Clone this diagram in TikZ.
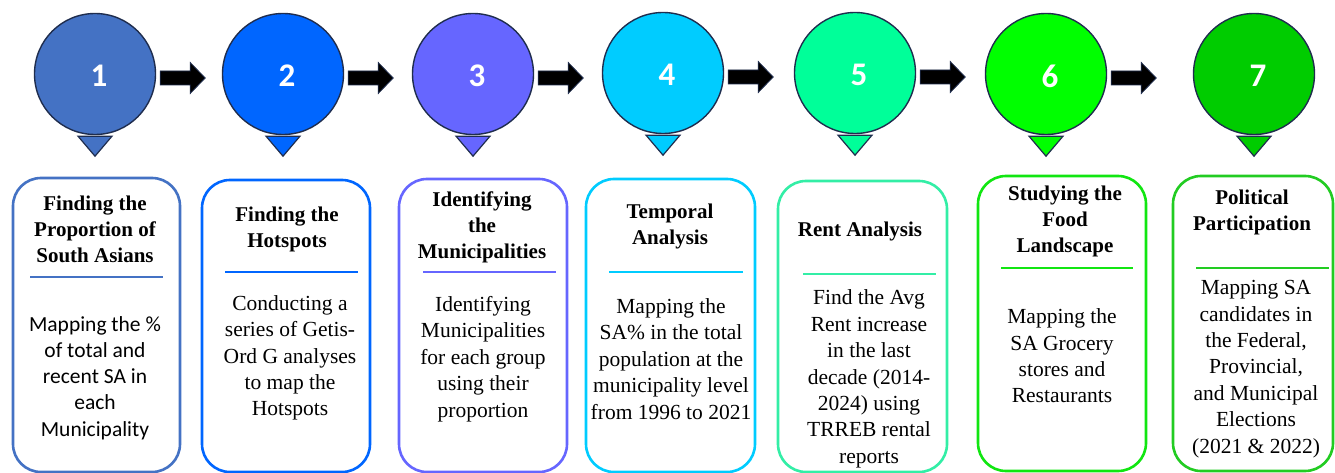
\documentclass[tikz,border=0pt]{standalone}
\usepackage{fontspec}
\setmainfont{Liberation Serif}[BoldFont={Liberation Serif Bold}]
\newfontfamily\calfont{Carlito}[BoldFont={Carlito Bold}]
\newfontfamily\ttlfont{Liberation Serif Bold}
\newcommand\numtxt[1]{\hspace*{8pt}\raisebox{-2pt}[\height][\depth]{#1}}
\usetikzlibrary{calc}
\definecolor{k1}{HTML}{4472C4}
\definecolor{k2}{HTML}{0066FF}
\definecolor{k3}{HTML}{6666FF}
\definecolor{k4}{HTML}{00CCFF}
\definecolor{k5}{HTML}{00FF99}
\definecolor{k6}{HTML}{00FF00}
\definecolor{k7}{HTML}{00CC00}
\definecolor{l5}{HTML}{33EEA6}
\definecolor{l6}{HTML}{11E611}
\definecolor{l7}{HTML}{22CC22}
\definecolor{navy}{HTML}{1F2D4E}
\begin{document}
\begin{tikzpicture}[x=1pt,y=-1pt,
  circ/.style={circle, draw=navy, line width=1.4pt, minimum size=121pt, inner sep=0pt,
    text=white, font=\calfont\bfseries\fontsize{33}{33}\selectfont},
  tri/.style={draw=navy, line width=1.2pt, line join=miter},
  barrow/.style={fill=black, draw=navy, line width=0.8pt, line join=miter},
  stepbox/.style={draw, rectangle, rounded corners=28pt, line width=2.6pt, inner sep=0pt},
  sepline/.style={line width=2.8pt},
  title/.style={align=center, inner sep=0pt, font=\ttlfont\fontsize{21}{26}\selectfont},
  body/.style={align=center, inner sep=0pt, font=\fontsize{21.5}{26.4}\selectfont},
  bodysans/.style={align=center, inner sep=0pt, font=\calfont\fontsize{21.5}{26.2}\selectfont}]
\useasboundingbox (0,0) rectangle (1335,473);
\fill[white] (0,0) rectangle (1335,473);

% circles
\node[circ, fill=k1] (c1) at (95,74) {\numtxt{1}};
\node[circ, fill=k2] (c2) at (283,74) {\numtxt{2}};
\node[circ, fill=k3] (c3) at (473,74) {\numtxt{3}};
\node[circ, fill=k4] (c4) at (663,73) {\numtxt{4}};
\node[circ, fill=k5] (c5) at (855,73) {\numtxt{5}};
\node[circ, fill=k6] (c6) at (1046,74) {\numtxt{6}};
\node[circ, fill=k7] (c7) at (1254,74) {\numtxt{7}};

% pointer triangles
\foreach \c/\k in {c1/k1,c2/k2,c3/k3,c4/k4,c5/k5,c6/k6,c7/k7}{
  \draw[tri, fill=\k] ($(\c.south)+(-17,1)$) -- ++(34,0) -- ($(\c.south)+(0,21)$) -- cycle;
}

% block arrows
\foreach \c in {c1,c2,c3,c4,c5,c6}{
  \draw[barrow] ($(\c.east)+(4,-3)$) -- ++(30,0) -- ++(0,-8.5) -- ++(15,15.5)
     -- ++(-15,15.5) -- ++(0,-8.5) -- ++(-30,0) -- cycle;
}

% boxes
\node[stepbox, draw=k1, minimum width=167pt, minimum height=294pt] (b1) at (96.5,325) {};
\node[stepbox, draw=k2, minimum width=168pt, minimum height=292pt] (b2) at (286,326) {};
\node[stepbox, draw=k3, minimum width=168pt, minimum height=293pt] (b3) at (483,325.5) {};
\node[stepbox, draw=k4, minimum width=169pt, minimum height=293pt] (b4) at (670.5,325.5) {};
\node[stepbox, draw=l5, minimum width=169pt, minimum height=291pt] (b5) at (862.5,326.5) {};
\node[stepbox, draw=l6, minimum width=168pt, minimum height=295pt] (b6) at (1062,323.5) {};
\node[stepbox, draw=l7, minimum width=160pt, minimum height=295pt] (b7) at (1253,323.5) {};

% separators
\draw[sepline, k1] (30,277) -- (163,277);
\draw[sepline, k2] (225,272) -- (358,272);
\draw[sepline, k3] (423,272) -- (556,272);
\draw[sepline, k4] (609,272) -- (743,272);
\draw[sepline, l5] (803,274) -- (936,274);
\draw[sepline, l6] (1001,268) -- (1133,268);
\draw[sepline, l7] (1196,268) -- (1329,268);

% titles
\node[title] (t1) at (95,229) {Finding the\\Proportion of\\South Asians};
\node[title] (t2) at (287,229.5) {Finding the\\Hotspots};
\node[title] (t3) at (482,227) {Identifying\\the\\Municipalities};
\node[title] (t4) at (670,226.5) {Temporal\\Analysis};
\node[title] (t5) at (860,231) {Rent Analysis};
\node[title] (t6) at (1065,221) {Studying the\\Food\\Landscape};
\node[title] (t7) at (1252,212) {Political\\Participation};

% bodies
\node[bodysans] (d1) at (95,378) {Mapping the \%\\of total and\\recent SA in\\each\\Municipality};
\node[body] (d2) at (290,358) {Conducting a\\series of Getis-\\Ord G analyses\\to map the\\Hotspots};
\node[body] (d3) at (483,359) {Identifying\\Municipalities\\for each group\\using their\\proportion};
\node[body] (d4) at (671,359) {Mapping the\\SA\% in the total\\population at the\\municipality level\\from 1996 to 2021};
\node[body] (d5) at (869,379) {Find the Avg\\Rent increase\\in the last\\decade (2014-\\2024) using\\TRREB rental\\reports};
\node[body] (d6) at (1062,356) {Mapping the\\SA Grocery\\stores and\\Restaurants};
\node[body] (d7) at (1256,369) {Mapping SA\\candidates in\\the Federal,\\Provincial,\\and Municipal\\Elections\\(2021 \& 2022)};
\end{tikzpicture}
\end{document}
